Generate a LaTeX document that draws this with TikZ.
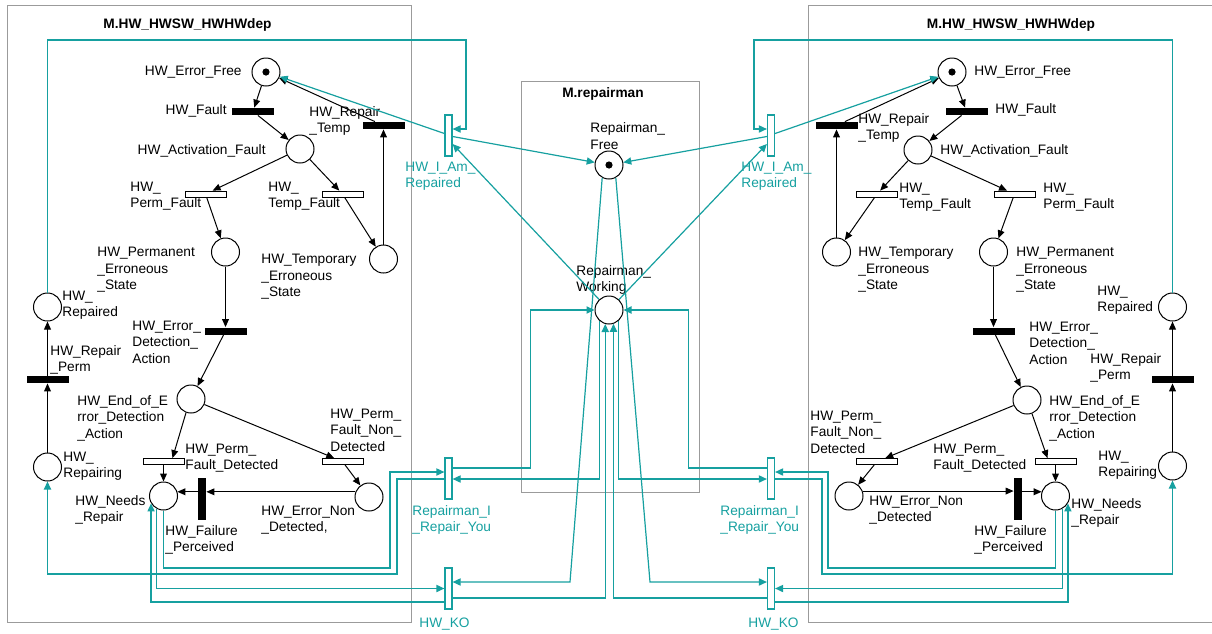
\documentclass[tikz,border=0pt]{standalone}
\usepackage{fontspec}
\setmainfont{Liberation Sans}
\usetikzlibrary{arrows.meta,calc}
\definecolor{tealc}{RGB}{22,160,160}
\definecolor{boxgray}{RGB}{155,155,155}
\begin{document}
\begin{tikzpicture}[x=0.5pt,y=-0.5pt,
  place/.style={circle,draw,line width=0.5pt,minimum size=14pt,inner sep=0pt,fill=white},
  tokendot/.style={circle,fill=black,minimum size=3.6pt,inner sep=0pt},
  tblack/.style={rectangle,fill=black,minimum width=21pt,minimum height=3.5pt,inner sep=0pt},
  tvblack/.style={rectangle,fill=black,minimum width=4pt,minimum height=21pt,inner sep=0pt},
  twhite/.style={rectangle,draw,line width=0.4pt,fill=white,minimum width=20.5pt,minimum height=3pt,inner sep=0pt},
  tteal/.style={rectangle,draw=tealc,line width=0.6pt,fill=white,minimum width=3.5pt,minimum height=20.5pt,inner sep=0pt},
  lbl/.style={inner sep=0pt,align=left,font=\fontsize{6.85pt}{8.25pt}\selectfont},
  tlbl/.style={lbl,text=tealc},
  titlelbl/.style={inner sep=0pt,font=\fontsize{6.85pt}{8.25pt}\selectfont\bfseries},
  arc/.style={draw,line width=0.5pt,-{Triangle[length=4pt,width=3.4pt]}},
  tarc/.style={draw=tealc,line width=0.6pt,-{Triangle[length=4pt,width=3.6pt]}},
  modbox/.style={draw=boxgray,line width=0.5pt}
]
\useasboundingbox (0,0) rectangle (1212,633);
% module boxes
\draw[modbox] (7,5) rectangle (411,622);
\draw[modbox] (1216,5) -- (808,5) -- (808,622) -- (1216,622);
\draw[modbox] (521,81) rectangle (699,492);
\node[titlelbl] (tL) at (187.5,25) {M.HW\_HWSW\_HWHWdep};
\node[titlelbl] (tR) at (1011,25) {M.HW\_HWSW\_HWHWdep};
\node[titlelbl] (tC) at (603,94) {M.repairman};

% ---------- left module ----------
\node[place] (LEF) at (266,72) {};
\node[tokendot] (LEFt) at (LEF) {};
\node[tblack] (LF) at (253,111.5) {};
\node[tblack] (LRT) at (383.5,125.5) {};
\node[place] (LAF) at (300,149) {};
\node[twhite] (LPF) at (205.5,194) {};
\node[twhite] (LTF) at (342.5,194) {};
\node[place] (LPES) at (225.5,252) {};
\node[place] (LTES) at (383.5,259) {};
\node[place] (LRep) at (47.5,307) {};
\node[tblack] (LEDA) at (225.5,331) {};
\node[tblack] (LRP) at (47.5,379.5) {};
\node[place] (LEED) at (191,399) {};
\node[place] (LRing) at (47.5,467) {};
\node[twhite] (LPFD) at (163.5,461.5) {};
\node[twhite] (LPFND) at (342.5,461.5) {};
\node[place] (LNR) at (163.5,496) {};
\node[tvblack] (LFP) at (202,499) {};
\node[place] (LENd) at (369,497) {};

\node[lbl,anchor=east] (lLEF) at (242,72) {HW\_Error\_Free};
\node[lbl,anchor=east] (lLF) at (227,111) {HW\_Fault};
\node[lbl,anchor=west] (lLRT) at (309,121) {HW\_Repair\\\_Temp};
\node[lbl,anchor=east] (lLAF) at (266,151) {HW\_Activation\_Fault};
\node[lbl,anchor=west] (lLPF) at (130,196) {HW\_\\Perm\_Fault};
\node[lbl,anchor=west] (lLTF) at (268,196) {HW\_\\Temp\_Fault};
\node[lbl,anchor=west] (lLPES) at (97,270) {HW\_Permanent\\\_Erroneous\\\_State};
\node[lbl,anchor=west] (lLTES) at (261,277) {HW\_Temporary\\\_Erroneous\\\_State};
\node[lbl,anchor=west] (lLRep) at (62,305) {HW\_\\Repaired};
\node[lbl,anchor=west] (lLEDA) at (132,342) {HW\_Error\_\\Detection\_\\Action};
\node[lbl,anchor=west] (lLRP) at (50,360) {HW\_Repair\\\_Perm};
\node[lbl,anchor=west] (lLEED) at (77,418) {HW\_End\_of\_E\\rror\_Detection\\\_Action};
\node[lbl,anchor=west] (lLRing) at (63,466) {HW\_\\Repairing};
\node[lbl,anchor=west] (lLPFD) at (185,458) {HW\_Perm\_\\Fault\_Detected};
\node[lbl,anchor=west] (lLPFND) at (330,430) {HW\_Perm\_\\Fault\_Non\_\\Detected};
\node[lbl,anchor=west] (lLNR) at (75,510) {HW\_Needs\\\_Repair};
\node[lbl,anchor=west] (lLFP) at (165,540) {HW\_Failure\\\_Perceived};
\node[lbl,anchor=west] (lLENd) at (261,520) {HW\_Error\_Non\\\_Detected,};

% ---------- right module ----------
\node[place] (REF) at (952,72) {};
\node[tokendot] (REFt) at (REF) {};
\node[tblack] (RF) at (966.5,111.5) {};
\node[tblack] (RRT) at (836.5,125.5) {};
\node[place] (RAF) at (918,150) {};
\node[twhite] (RTF) at (877,194) {};
\node[twhite] (RPF) at (1014.5,194) {};
\node[place] (RTES) at (836.5,252) {};
\node[place] (RPES) at (993.5,252) {};
\node[place] (RRep) at (1172.5,307) {};
\node[tblack] (REDA) at (993.5,331) {};
\node[tblack] (RRP) at (1172.5,379.5) {};
\node[place] (REED) at (1027,400) {};
\node[twhite] (RPFND) at (877,461.5) {};
\node[twhite] (RPFD) at (1055.5,461.5) {};
\node[place] (RENd) at (849,496) {};
\node[tvblack] (RFP) at (1018,499) {};
\node[place] (RNR) at (1055.5,496) {};
\node[place] (RRing) at (1172.5,466) {};

\node[lbl,anchor=west] (lREF) at (974,72) {HW\_Error\_Free};
\node[lbl,anchor=west] (lRF) at (995,110) {HW\_Fault};
\node[lbl,anchor=west] (lRRT) at (858,128) {HW\_Repair\\\_Temp};
\node[lbl,anchor=west] (lRAF) at (940,151) {HW\_Activation\_Fault};
\node[lbl,anchor=west] (lRTF) at (899,197) {HW\_\\Temp\_Fault};
\node[lbl,anchor=west] (lRPF) at (1043,197) {HW\_\\Perm\_Fault};
\node[lbl,anchor=west] (lRTES) at (858,270) {HW\_Temporary\\\_Erroneous\\\_State};
\node[lbl,anchor=west] (lRPES) at (1016,270) {HW\_Permanent\\\_Erroneous\\\_State};
\node[lbl,anchor=west] (lRRep) at (1097,300) {HW\_\\Repaired};
\node[lbl,anchor=west] (lREDA) at (1029,343) {HW\_Error\_\\Detection\_\\Action};
\node[lbl,anchor=west] (lRRP) at (1090,368) {HW\_Repair\\\_Perm};
\node[lbl,anchor=west] (lREED) at (1049,418) {HW\_End\_of\_E\\rror\_Detection\\\_Action};
\node[lbl,anchor=west] (lRPFND) at (810,432) {HW\_Perm\_\\Fault\_Non\_\\Detected};
\node[lbl,anchor=west] (lRPFD) at (933,458) {HW\_Perm\_\\Fault\_Detected};
\node[lbl,anchor=west] (lRENd) at (869,510) {HW\_Error\_Non\\\_Detected};
\node[lbl,anchor=west] (lRFP) at (974,540) {HW\_Failure\\\_Perceived};
\node[lbl,anchor=west] (lRNR) at (1071,513) {HW\_Needs\\\_Repair};
\node[lbl,anchor=west] (lRRing) at (1098,465) {HW\_\\Repairing};

% ---------- repairman ----------
\node[place] (Free) at (609,165) {};
\node[tokendot] (Freet) at (Free) {};
\node[place] (Work) at (609,310) {};
\node[lbl,anchor=west] (lFree) at (590,136) {Repairman\_\\Free};
\node[lbl,anchor=west] (lWork) at (576,280) {Repairman\_\\Working};

% ---------- shared transitions ----------
\node[tteal] (LIAR) at (448.5,135.5) {};
\node[tteal] (LRIRY) at (448.5,478.5) {};
\node[tteal] (LKO) at (448.5,588.5) {};
\node[tteal] (RIAR) at (771,135.5) {};
\node[tteal] (RRIRY) at (771,478.5) {};
\node[tteal] (RKO) at (771,588.5) {};
\node[tlbl,anchor=west] (lLIAR) at (405,176) {HW\_I\_Am\_\\Repaired};
\node[tlbl,anchor=west] (lLRIRY) at (412,520) {Repairman\_I\\\_Repair\_You};
\node[tlbl,anchor=west] (lLKO) at (419,624) {HW\_KO};
\node[tlbl,anchor=west] (lRIAR) at (741,176) {HW\_I\_Am\_\\Repaired};
\node[tlbl,anchor=west] (lRRIRY) at (720,520) {Repairman\_I\\\_Repair\_You};
\node[tlbl,anchor=west] (lRKO) at (748,624) {HW\_KO};

% ---------- black arcs, left ----------
\draw[arc] (LEF) -- (LF);
\draw[arc] (LF) -- (LAF);
\draw[arc] (LAF) -- (LPF);
\draw[arc] (LAF) -- (LTF);
\draw[arc] (LPF) -- (LPES);
\draw[arc] (LTF) -- (LTES);
\draw[arc] (LTES) -- (LRT);
\draw[arc] (LRT) -- (LEF);
\draw[arc] (LPES) -- (LEDA);
\draw[arc] (LEDA) -- (LEED);
\draw[arc] (LEED.-110) -- ($(LPFD.north)+(9,0)$);
\draw[arc] (LEED) -- (LPFND);
\draw[arc] (LPFD) -- (LNR);
\draw[arc] (LPFND) -- (LENd);
\draw[arc] (LENd.159) -- (LENd.159 -| LFP.east);
\draw[arc] (LFP.west |- LNR.17) -- (LNR.17);
\draw[arc] (LRing) -- (LRP);
\draw[arc] (LRP) -- (LRep);

% ---------- black arcs, right ----------
\draw[arc] (REF) -- (RF);
\draw[arc] (RF) -- (RAF);
\draw[arc] (RAF) -- (RTF);
\draw[arc] (RAF) -- (RPF);
\draw[arc] (RTF) -- (RTES);
\draw[arc] (RPF) -- (RPES);
\draw[arc] (RTES) -- (RRT);
\draw[arc] (RRT) -- (REF);
\draw[arc] (RPES) -- (REDA);
\draw[arc] (REDA) -- (REED);
\draw[arc] (REED.-70) -- ($(RPFD.north)+(-8,0)$);
\draw[arc] (REED) -- (RPFND);
\draw[arc] (RPFD) -- (RNR);
\draw[arc] (RPFND) -- (RENd);
\draw[arc] (RENd.20) -- (RENd.20 -| RFP.west);
\draw[arc] (RFP.east |- RNR.163) -- (RNR.163);
\draw[arc] (RRing) -- (RRP);
\draw[arc] (RRP) -- (RRep);

% ---------- teal arcs, left ----------
\draw[tarc] (LRep.north) |- (466,40) |- ($(LIAR.east)+(0,-6.5)$);
\draw[tarc] ($(LIAR.west)+(0,-2)$) -- (LEF);
\draw[tarc] ($(LIAR.east)+(0,1)$) -- (Free);
\draw[tarc] (Work) -- ($(LIAR.east)+(0,8.5)$);
\draw[tarc] ($(LRIRY.east)+(0,-10.5)$) -| ($(Work.west)+(-64,0)$) -- (Work.west);
\draw[tarc] (Work.-130) |- ($(LRIRY.east)+(0,0.5)$);
\draw[tarc] (Free.-118) -- (570,582) -- ($(LKO.east)+(0,-6.5)$);
\draw[tarc] ($(LKO.east)+(0,9.5)$) -| (Work.-105);
\draw[tarc] (LNR.south) |- (390,568) |- ($(LRIRY.west)+(0,-6.5)$);
\draw[tarc] ($(LRIRY.west)+(0,0.5)$) -| (397,574) -| (LRing.south);
\draw[tarc] (LNR.-118) |- (LKO.west);
\draw[tarc] ($(LKO.west)+(0,13.5)$) -| (LNR.-149);

% ---------- teal arcs, right ----------
\draw[tarc] (RRep.north) |- (754,40) |- ($(RIAR.west)+(0,-6.5)$);
\draw[tarc] ($(RIAR.east)+(0,-2)$) -- (REF);
\draw[tarc] ($(RIAR.west)+(0,1)$) -- (Free);
\draw[tarc] (Work) -- ($(RIAR.west)+(0,8.5)$);
\draw[tarc] ($(RRIRY.west)+(0,-10.5)$) -| ($(Work.east)+(65,0)$) -- (Work.east);
\draw[tarc] (Work.-48) |- ($(RRIRY.west)+(0,0.5)$);
\draw[tarc] (Free.-62) -- (650,582) -- ($(RKO.west)+(0,-6.5)$);
\draw[tarc] ($(RKO.west)+(0,9.5)$) -| (Work.-72);
\draw[tarc] (RNR.south) |- (828,568) |- ($(RRIRY.east)+(0,-6.5)$);
\draw[tarc] ($(RRIRY.east)+(0,0.5)$) -| (822,574) -| (RRing.south);
\draw[tarc] (RNR.-62) |- (RKO.east);
\draw[tarc] ($(RKO.east)+(0,13.5)$) -| (RNR.-31);
\end{tikzpicture}
\end{document}
